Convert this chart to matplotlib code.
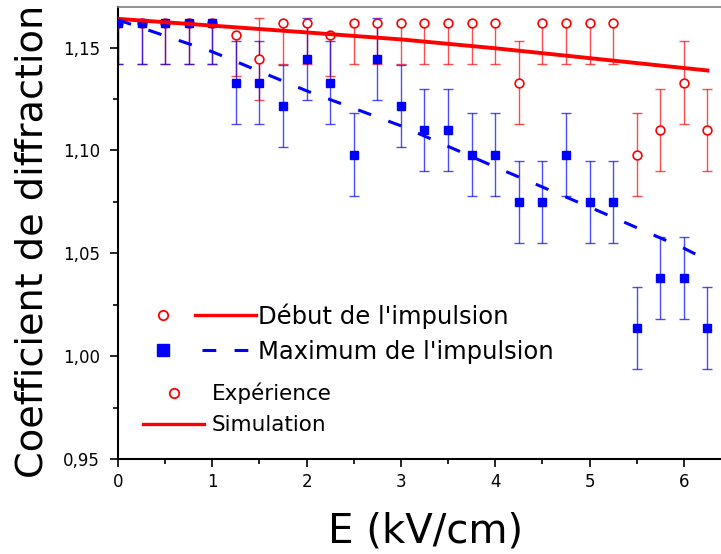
import numpy as np
import matplotlib.pyplot as plt
from matplotlib.lines import Line2D
from matplotlib.legend_handler import HandlerBase
from matplotlib.ticker import MultipleLocator, FuncFormatter

# champ electrique (kV/cm)
E = [0, 0.25, 0.5, 0.75, 1.0, 1.25, 1.5, 1.75, 2.0, 2.25, 2.5, 2.75, 3.0,
     3.25, 3.5, 3.75, 4.0, 4.25, 4.5, 4.75, 5.0, 5.25, 5.5, 5.75, 6.0, 6.25]

# mesures : debut et maximum de l'impulsion
debut = [1.162, 1.162, 1.162, 1.162, 1.162, 1.156, 1.1445, 1.162, 1.162,
         1.156, 1.162, 1.162, 1.162, 1.162, 1.162, 1.162, 1.162, 1.133,
         1.162, 1.162, 1.162, 1.162, 1.098, 1.110, 1.133, 1.110]
maximum = [1.162, 1.162, 1.162, 1.162, 1.162, 1.133, 1.133, 1.1216, 1.1445,
           1.133, 1.098, 1.1445, 1.1216, 1.110, 1.110, 1.098, 1.098, 1.0748,
           1.0748, 1.098, 1.0748, 1.0748, 1.0137, 1.038, 1.038, 1.0137]
erreur = 0.02

# simulations
E_sim = [0, 1, 2, 3, 4, 5, 6, 6.25]
debut_sim = [1.1640, 1.1607, 1.1574, 1.1540, 1.1497, 1.1449, 1.1401, 1.1389]
maximum_sim = [1.1635, 1.1480, 1.1290, 1.1120, 1.0920, 1.0725, 1.0525, 1.0467]

Y_MIN, Y_MAX = 0.95, 1.17


# Draws marker on the left then the line after a gap
class MarqueurPuisLigne(HandlerBase):
    def __init__(self, x_mark, x_line, **kw):
        HandlerBase.__init__(self, **kw)
        self.x_mark = x_mark
        self.x_line = x_line

    def create_artists(self, legend, orig_handle, xdescent, ydescent,
                       width, height, fontsize, trans):
        marqueur, ligne = orig_handle
        y = height / 2 - ydescent
        m = Line2D([self.x_mark * width - xdescent], [y])
        m.update_from(marqueur)
        l = Line2D([self.x_line[0] * width - xdescent,
                    self.x_line[1] * width - xdescent], [y, y])
        l.update_from(ligne)
        m.set_transform(trans)
        l.set_transform(trans)
        return [l, m]


# Error bars, upper part dropped when it leaves the frame
def drawErrors(ax, x, y, err, color):
    x = np.asarray(x)
    y = np.asarray(y)
    bas = y - err
    haut = y + err
    visible = haut <= Y_MAX
    haut = np.where(visible, haut, y)
    ax.vlines(x, bas, haut, color=color, lw=1.0, alpha=0.7, zorder=2)
    ax.plot(x, bas, ls='none', marker='_', ms=6.5, mew=1.0, color=color, alpha=0.7, zorder=2)
    ax.plot(x[visible], haut[visible], ls='none', marker='_', ms=6.5, mew=1.0,
            color=color, alpha=0.7, zorder=2)


fig = plt.figure(figsize=(7.21, 5.54), dpi=100)
ax = fig.add_axes([118 / 721, 95 / 554, 603 / 721, 452.5 / 554])

drawErrors(ax, E, debut, erreur, 'red')
ax.plot(E, debut, ls='none', marker='o', ms=6.3, mfc='white', mec='red', mew=1.2, zorder=3)
drawErrors(ax, E, maximum, erreur, 'blue')
ax.plot(E, maximum, ls='none', marker='s', ms=6.3, color='blue', zorder=4)

ax.plot(E_sim, debut_sim, color='red', lw=2.8, zorder=5)
ax.plot(E_sim, maximum_sim, color='blue', lw=2.2, ls=(0, (4.5, 6)), zorder=5)

ax.set_xlim(0, 603 / 94.3)
ax.set_ylim(Y_MIN, Y_MAX)
ax.xaxis.set_major_locator(MultipleLocator(1))
ax.xaxis.set_minor_locator(MultipleLocator(0.5))
ax.yaxis.set_major_locator(MultipleLocator(0.05))
ax.yaxis.set_minor_locator(MultipleLocator(0.025))
ax.yaxis.set_major_formatter(FuncFormatter(lambda v, p: f"{v:.2f}".replace('.', ',')))
ax.xaxis.set_major_formatter(FuncFormatter(lambda v, p: f"{v:.0f}"))

ax.spines['right'].set_visible(False)
ax.spines['top'].set_color('#808080')
ax.spines['top'].set_linewidth(1.2)
ax.spines['left'].set_linewidth(1.5)
ax.spines['bottom'].set_linewidth(1.5)
ax.tick_params(which='major', direction='out', length=6, width=1.2, labelsize=12)
ax.tick_params(which='minor', direction='out', length=3.5, width=1.2)
ax.tick_params(axis='y', which='major', pad=7)
ax.tick_params(axis='x', which='major', pad=4)

fig.text(33 / 721, 1 - 241 / 554, 'Coefficient de diffraction', rotation=90,
         ha='center', va='center', fontsize=27.5)
fig.text(426 / 721, 1 - 542 / 554, 'E (kV/cm)', ha='center', va='baseline', fontsize=29)

# first legend: marker + line
c1 = Line2D([], [], ls='none', marker='o', ms=6.8, mfc='white', mec='red', mew=1.3)
l1 = Line2D([], [], color='red', lw=2.4)
s1 = Line2D([], [], ls='none', marker='s', ms=8.5, color='blue')
l2 = Line2D([], [], color='blue', lw=2.2, ls=(0, (4.5, 6)))
h1 = (c1, l1)
h2 = (s1, l2)
leg1 = ax.legend([h1, h2], ["Début de l'impulsion", "Maximum de l'impulsion"],
                 handler_map={h1: MarqueurPuisLigne(0.123, (0.425, 1.0)),
                              h2: MarqueurPuisLigne(0.123, (0.49, 0.925))},
                 loc='upper left', bbox_to_anchor=(150 / 721, 1 - 303.5 / 554),
                 bbox_transform=fig.transFigure, frameon=False, fontsize=17.5,
                 handlelength=4.36, handletextpad=0.1, labelspacing=0.45,
                 borderpad=0, borderaxespad=0)
ax.add_artist(leg1)

# second legend
c2 = Line2D([], [], ls='none', marker='o', ms=6.8, mfc='white', mec='red', mew=1.3)
l3 = Line2D([], [], color='red', lw=2.4)
ax.legend([c2, l3], ['Expérience', 'Simulation'], loc='upper left',
          bbox_to_anchor=(143 / 721, 1 - 383 / 554), bbox_transform=fig.transFigure,
          frameon=False, fontsize=15.5, handlelength=2.84, handletextpad=0.37,
          labelspacing=0.5, borderpad=0, borderaxespad=0, numpoints=1)

fig.savefig('out.png', dpi=100)
